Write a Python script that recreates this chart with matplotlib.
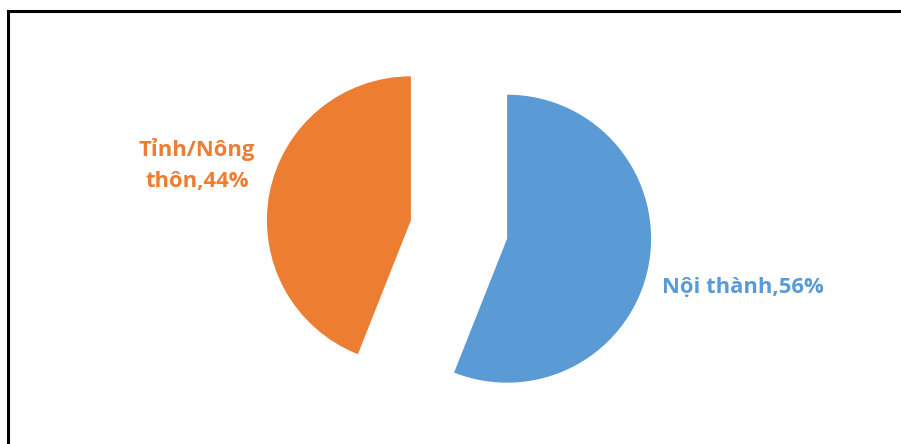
import numpy as np
import matplotlib.pyplot as plt
from matplotlib.lines import Line2D

categories = ["Nội thành", "Tỉnh/Nông\nthôn"]
shares = [56, 44]
colors = ["#5B9BD5", "#ED7D31"]

W, H = 901, 444
fig = plt.figure(figsize=(W / 100, H / 100), dpi=100)
ax = fig.add_axes([0, 0, 1, 1])

# pie center and radius in pixels
cx, cy, r = 459, 229.5, 144
ax.pie(shares, colors=colors, startangle=90, counterclock=False,
       explode=[0.34, 0.34], radius=1, wedgeprops=dict(linewidth=0))
ax.set_aspect("auto")
ax.set_xlim(-cx / r, (W - cx) / r)
ax.set_ylim(-(H - cy) / r, cy / r)
ax.axis("off")

def px(x, y):
    return (x - cx) / r, (cy - y) / r

label_pos = [px(743, 287), px(197, 165)]
for cat, s, c, (lx, ly) in zip(categories, shares, colors, label_pos):
    ax.text(lx, ly, f"{cat},{s}%", color=c, fontsize=15.8, fontweight="bold",
            family="Open Sans", ha="center", va="center", linespacing=1.65)

# frame lines along the top and left edge
fig.add_artist(Line2D([8 / W, 1], [1 - 11 / H, 1 - 11 / H], color="black",
                      lw=2.2, transform=fig.transFigure))
fig.add_artist(Line2D([8 / W, 8 / W], [0, 1 - 11 / H], color="black",
                      lw=2.2, transform=fig.transFigure))

fig.savefig("out.png", dpi=100)
